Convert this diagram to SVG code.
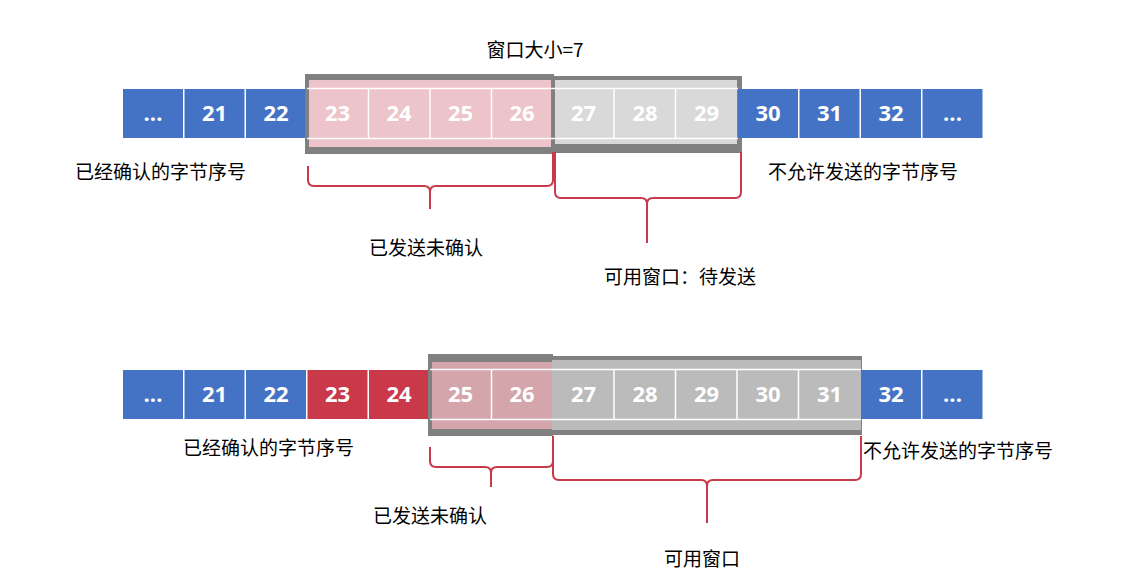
<svg xmlns="http://www.w3.org/2000/svg" width="1131" height="576" viewBox="0 0 1131 576">
<style>
.c{stroke:none}
.b{fill:#4472c4}.r{fill:#c9394a}
.n{font-family:"Open Sans","Noto Sans",sans-serif;font-weight:bold;font-size:22px;fill:#fff;text-anchor:middle}
.t{font-family:"Noto Sans CJK SC",sans-serif;font-size:19px;fill:#000}
.br{fill:none;stroke:#c9394a;stroke-width:2}
.fr{fill:#808080}
</style>
<rect width="1131" height="576" fill="#fff"/>
<g id="row1">
<rect class="b" x="123" y="89" width="60" height="49"/><text class="n" x="153" y="121">...</text>
<rect class="b" x="184.5" y="89" width="60" height="49"/><text class="n" x="214.5" y="121">21</text>
<rect class="b" x="246" y="89" width="60" height="49"/><text class="n" x="276" y="121">22</text>
<rect fill="#808080" x="305" y="74" width="249" height="80"/>
<rect fill="#ecc4c9" x="309" y="80" width="242" height="67"/>
<rect fill="#808080" x="553" y="76" width="189" height="77"/>
<rect fill="#d9d9d9" x="555" y="80" width="182" height="64"/>
<g stroke="#fff" stroke-width="1.5" fill="none">
<line x1="307" y1="88.5" x2="738" y2="88.5"/><line x1="307" y1="138.5" x2="738" y2="138.5"/>
<line x1="368.5" y1="89" x2="368.5" y2="138"/><line x1="430" y1="89" x2="430" y2="138"/><line x1="491.5" y1="89" x2="491.5" y2="138"/><line x1="614" y1="89" x2="614" y2="138"/><line x1="675.5" y1="89" x2="675.5" y2="138"/>
</g>
<text class="n" x="337.5" y="121">23</text><text class="n" x="399" y="121">24</text><text class="n" x="460.5" y="121">25</text><text class="n" x="522" y="121">26</text>
<text class="n" x="583.5" y="121">27</text><text class="n" x="645" y="121">28</text><text class="n" x="706.5" y="121">29</text>
<rect class="b" x="738" y="89" width="60" height="49"/><text class="n" x="768" y="121">30</text>
<rect class="b" x="799.5" y="89" width="60" height="49"/><text class="n" x="829.5" y="121">31</text>
<rect class="b" x="861" y="89" width="60" height="49"/><text class="n" x="891" y="121">32</text>
<rect class="b" x="922.5" y="89" width="60" height="49"/><text class="n" x="952.5" y="121">...</text>
</g>
<g id="row2">
<rect class="b" x="123" y="370" width="60" height="49"/><text class="n" x="153" y="402">...</text>
<rect class="b" x="184.5" y="370" width="60" height="49"/><text class="n" x="214.5" y="402">21</text>
<rect class="b" x="246" y="370" width="60" height="49"/><text class="n" x="276" y="402">22</text>
<rect class="r" x="307.5" y="370" width="60" height="49"/><text class="n" x="337.5" y="402">23</text>
<rect class="r" x="369" y="370" width="60" height="49"/><text class="n" x="399" y="402">24</text>
<rect fill="#808080" x="428" y="354" width="125" height="82"/>
<rect fill="#d4a5ab" x="432" y="362" width="121" height="67"/>
<rect fill="#808080" x="552" y="356" width="310" height="79"/>
<rect fill="#bbbbbb" x="552" y="360" width="309" height="70"/>
<g stroke="#fff" stroke-width="1.5" fill="none">
<line x1="430" y1="369.5" x2="861" y2="369.5"/><line x1="430" y1="419.5" x2="861" y2="419.5"/>
<line x1="491.5" y1="370" x2="491.5" y2="419"/><line x1="614" y1="370" x2="614" y2="419"/><line x1="675.5" y1="370" x2="675.5" y2="419"/><line x1="737" y1="370" x2="737" y2="419"/><line x1="798.5" y1="370" x2="798.5" y2="419"/>
</g>
<text class="n" x="460.5" y="402">25</text><text class="n" x="522" y="402">26</text>
<text class="n" x="583.5" y="402">27</text><text class="n" x="645" y="402">28</text><text class="n" x="706.5" y="402">29</text><text class="n" x="768" y="402">30</text><text class="n" x="829.5" y="402">31</text>
<rect class="b" x="861" y="370" width="60" height="49"/><text class="n" x="891" y="402">32</text>
<rect class="b" x="922.5" y="370" width="60" height="49"/><text class="n" x="952.5" y="402">...</text>
</g>
<g id="connectors">
<path class="br" d="M308,166 V180 Q308,186 314,186 H424 Q430,186 430,192 V209 M430,192 Q430,186 436,186 H547 Q553,186 553,180 V152"/>
<path class="br" d="M555,152 V192 Q555,198 561,198 H641 Q647,198 647,204 V243 M647,204 Q647,198 653,198 H735 Q741,198 741,192 V152"/>
<path class="br" d="M430,447 V461 Q430,467 436,467 H485 Q491,467 491,473 V487 M491,473 Q491,467 497,467 H547 Q553,467 553,461 V436"/>
<path class="br" d="M553,436 V474 Q553,480 559,480 H701 Q707,480 707,486 V523 M707,486 Q707,480 713,480 H855 Q861,480 861,474 V436"/>
</g>
<g id="labels">
<text class="t" x="535" y="57" text-anchor="middle">窗口大小=7</text>
<text class="t" x="75" y="179">已经确认的字节序号</text>
<text class="t" x="768" y="179">不允许发送的字节序号</text>
<text class="t" x="426" y="255" text-anchor="middle">已发送未确认</text>
<text class="t" x="680" y="284" text-anchor="middle">可用窗口：待发送</text>
<text class="t" x="183" y="455">已经确认的字节序号</text>
<text class="t" x="863" y="458">不允许发送的字节序号</text>
<text class="t" x="430" y="523" text-anchor="middle">已发送未确认</text>
<text class="t" x="702" y="566" text-anchor="middle">可用窗口</text>
</g>
</svg>
